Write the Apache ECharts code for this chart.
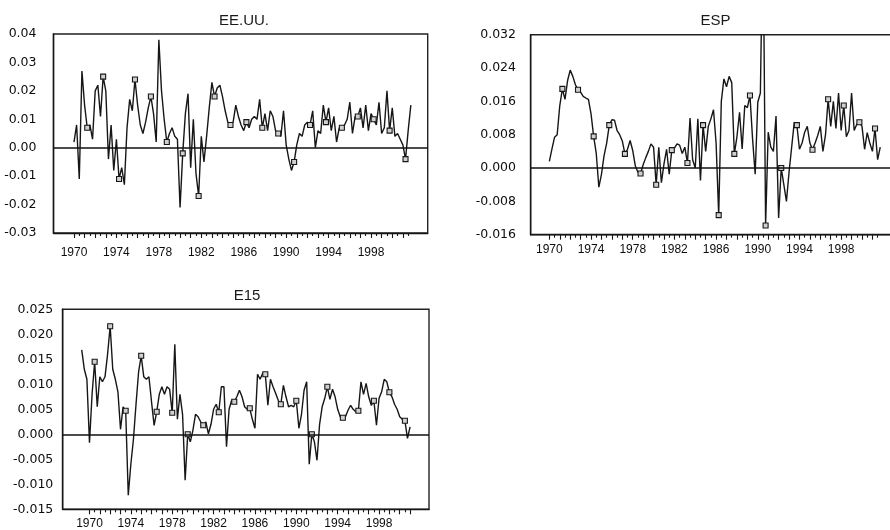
<!DOCTYPE html>
<html>
<head>
<meta charset="utf-8">
<script src="https://cdn.jsdelivr.net/npm/echarts@6/dist/echarts.min.js"></script>
<style>
html,body{margin:0;padding:0;background:#fff;}
#chart{width:890px;height:530px;}
</style>
</head>
<body>
<div id="chart"></div>
<script>
// ---- data (quarterly observations) ----
const quarterStep = 0.25;
const eeuuStart = 1970.0;
const espStart = 1970.0;
const e15Start = 1969.25;

const eeuuValues = [
  0.002, 0.008, -0.011, 0.027, 0.015, 0.007, 0.008, 0.003,
  0.020, 0.022, 0.011, 0.025, 0.020, -0.004, 0.008, -0.008,
  0.003, -0.011, -0.007, -0.013, 0.007, 0.017, 0.013, 0.024,
  0.015, 0.008, 0.005, 0.009, 0.014, 0.018, 0.012, 0.002,
  0.038, 0.020, 0.010, 0.002, 0.005, 0.007, 0.004, 0.003,
  -0.021, -0.002, 0.012, 0.019, -0.007, 0.010, -0.009, -0.017,
  0.004, -0.005, 0.004, 0.014, 0.023, 0.018, 0.021, 0.022,
  0.018, 0.013, 0.009, 0.008, 0.009, 0.015, 0.011, 0.008,
  0.006, 0.009, 0.007, 0.010, 0.011, 0.010, 0.017, 0.007,
  0.012, 0.006, 0.013, 0.011, 0.006, 0.005, 0.004, 0.013,
  0.001, -0.004, -0.008, -0.005, 0.001, 0.005, 0.004, 0.008,
  0.009, 0.008, 0.013, 0.000, 0.006, 0.005, 0.015, 0.009,
  0.014, 0.006, 0.011, 0.002, 0.007, 0.007, 0.008, 0.010,
  0.016, 0.005, 0.011, 0.011, 0.014, 0.007, 0.015, 0.006,
  0.012, 0.010, 0.008, 0.016, 0.005, 0.007, 0.020, 0.006,
  0.014, 0.004, 0.005, 0.003, 0.001, -0.004, 0.006, 0.015
];

const espValues = [
  0.0016, 0.0046, 0.0074, 0.008, 0.015, 0.019, 0.0165, 0.021,
  0.0235, 0.022, 0.020, 0.0188, 0.0182, 0.0172, 0.0168, 0.0165,
  0.013, 0.0076, 0.0035, -0.0046, -0.0015, 0.003, 0.006, 0.0103,
  0.0116, 0.0115, 0.009, 0.008, 0.0065, 0.0034, 0.0045, 0.0066,
  0.0042, 0.0005, -0.001, -0.0013, 0.0008, 0.0025, 0.004, 0.0058,
  0.005, -0.004, 0.005, -0.0035, 0.001, 0.0045, -0.0015, 0.0043,
  0.0048, 0.0058, 0.0055, 0.0035, 0.005, 0.0012, 0.012, 0.002,
  0.000, 0.0118, -0.003, 0.0103, 0.004, 0.010, 0.0118, 0.014,
  0.006, -0.0113, 0.016, 0.0214, 0.0195, 0.022, 0.0205, 0.0034,
  0.0075, 0.0134, 0.0046, 0.015, 0.0145, 0.0174, 0.007, -0.0015,
  0.0158, 0.018, 0.06, -0.0138, 0.0086, 0.005, 0.004, 0.0125,
  -0.012, 0.000, -0.004, -0.008, -0.001, 0.005, 0.011, 0.0103,
  0.0045, 0.006, 0.0086, 0.010, 0.006, 0.0044, 0.006, 0.0078,
  0.010, 0.004, 0.008, 0.0165, 0.010, 0.016, 0.0095, 0.018,
  0.009, 0.015, 0.0075, 0.009, 0.018, 0.009, 0.0105, 0.011,
  0.010, 0.0045, 0.0085, 0.006, 0.004, 0.0095, 0.002, 0.005
];

const e15Values = [
  0.0169, 0.013, 0.011, -0.0017, 0.008, 0.0145, 0.0055, 0.0115,
  0.0105, 0.0115, 0.016, 0.0216, 0.013, 0.011, 0.0085, 0.001,
  0.0055, 0.0047, -0.0122, -0.006, -0.001, 0.006, 0.0125, 0.0157,
  0.0115, 0.011, 0.0115, 0.0065, 0.0018, 0.0045, 0.008, 0.0095,
  0.008, 0.0095, 0.009, 0.0043, 0.018, 0.003, 0.008, 0.004,
  -0.0092, 0.000, -0.0015, 0.0008, 0.004, 0.0035, 0.0025, 0.0018,
  0.0025, 0.0001, 0.002, 0.005, 0.006, 0.0044, 0.0095, 0.0095,
  -0.0025, 0.005, 0.0068, 0.0065, 0.0075, 0.0088, 0.0075, 0.0055,
  0.005, 0.0052, 0.003, 0.0012, 0.012, 0.011, 0.0122, 0.012,
  0.0058, 0.011, 0.0095, 0.0082, 0.0068, 0.006, 0.0098, 0.0075,
  0.0055, 0.0058, 0.0055, 0.0067, 0.0012, 0.004, 0.0088, 0.0105,
  -0.006, 0.000, -0.0015, -0.0052, 0.002, 0.0055, 0.0072, 0.0095,
  0.007, 0.009, 0.0075, 0.005, 0.0035, 0.0033, 0.0035, 0.0048,
  0.0058, 0.005, 0.0045, 0.0047, 0.0105, 0.008, 0.0102, 0.0075,
  0.0058, 0.0067, 0.0018, 0.0072, 0.0085, 0.011, 0.0105, 0.0084,
  0.0075, 0.006, 0.005, 0.0035, 0.003, 0.0027, -0.0008, 0.0015
];

const yearLabels = [1970, 1974, 1978, 1982, 1986, 1990, 1994, 1998];
const yearTicks = [1970, 1971, 1972, 1973, 1974, 1975, 1976, 1977, 1978, 1979, 1980,
  1981, 1982, 1983, 1984, 1985, 1986, 1987, 1988, 1989, 1990, 1991, 1992, 1993,
  1994, 1995, 1996, 1997, 1998, 1999, 2000, 2001];

// ---- panels ----
const FONT = '"Liberation Sans", Arial, Helvetica, sans-serif';
const YFONT = '"DejaVu Sans", Verdana, sans-serif';
const INK = '#161616';

const panels = [
  { title: 'EE.UU.', tx: 244, ty: 21, values: eeuuValues, start: eeuuStart,
    grid: { left: 53.5, top: 34, width: 374.2, height: 199 },
    xMin: 1968.07, xMax: 2003.34, yMin: -0.03, yMax: 0.04, yStep: 0.01, dec: 2,
    yMargin: 17, xMargin: 13.5, tickEnd: 2001.5 },
  { title: 'ESP', tx: 715.5, ty: 21.3, values: espValues, start: espStart,
    grid: { left: 530.7, top: 34.7, width: 366, height: 200 },
    xMin: 1968.21, xMax: 2003.33, yMin: -0.016, yMax: 0.032, yStep: 0.008, dec: 3,
    yMargin: 14.7, xMargin: 9, tickEnd: 2001.5 },
  { title: 'E15', tx: 247, ty: 296, values: e15Values, start: e15Start,
    grid: { left: 62.7, top: 309.3, width: 366.3, height: 200 },
    xMin: 1967.41, xMax: 2002.83, yMin: -0.015, yMax: 0.025, yStep: 0.005, dec: 3,
    yMargin: 9.4, xMargin: 8.5, tickEnd: 2001 }
];

const grids = [], xAxes = [], yAxes = [], series = [], graphics = [];

panels.forEach((p, k) => {
  grids.push(Object.assign({
    show: true, borderColor: '#222', borderWidth: 1.4, backgroundColor: 'transparent',
    containLabel: false, outerBoundsMode: 'none'
  }, p.grid));

  const yt = yearTicks.filter(y => y <= p.tickEnd);
  const ht = yearTicks.map(y => y + 0.5).filter(y => y <= p.tickEnd);

  // main x axis: line, yearly ticks, labels
  xAxes.push({
    type: 'value', gridIndex: k, min: p.xMin, max: p.xMax, position: 'bottom',
    axisLine: { show: true, onZero: false, lineStyle: { color: INK, width: 1.4 } },
    axisTick: { show: true, inside: false, length: 5, customValues: yt,
      lineStyle: { color: INK, width: 1.1 } },
    axisLabel: { show: true, customValues: yearLabels, margin: p.xMargin,
      fontFamily: FONT, fontSize: 12, color: '#0d0d0d',
      formatter: v => String(Math.round(v)) },
    splitLine: { show: false }
  });
  // secondary x axis: half-year short ticks
  xAxes.push({
    type: 'value', gridIndex: k, min: p.xMin, max: p.xMax, position: 'bottom',
    axisLine: { show: false, onZero: false },
    axisTick: { show: true, inside: false, length: 3, customValues: ht,
      lineStyle: { color: INK, width: 1.1 } },
    axisLabel: { show: false },
    splitLine: { show: false }
  });

  yAxes.push({
    type: 'value', gridIndex: k, min: p.yMin, max: p.yMax, interval: p.yStep,
    axisLine: { show: true, onZero: false, lineStyle: { color: INK, width: 1.4 } },
    axisTick: { show: false },
    axisLabel: { margin: p.yMargin, fontFamily: YFONT, fontSize: 12.5, color: '#0d0d0d',
      formatter: v => v.toFixed(p.dec) },
    splitLine: { show: false }
  });

  series.push({
    type: 'line', name: p.title, xAxisIndex: 2 * k, yAxisIndex: k,
    data: p.values.map((v, i) => [p.start + i * quarterStep, v]),
    symbol: 'rect', showSymbol: true, showAllSymbol: true,
    symbolSize: (val, params) => (params.dataIndex % 6 === 5 ? 5 : 0),
    itemStyle: { color: '#d0d0d0', borderColor: INK, borderWidth: 1.1 },
    lineStyle: { color: INK, width: 1.4 },
    clip: true, silent: true, animation: false,
    markLine: {
      silent: true, symbol: 'none', animation: false,
      label: { show: false },
      lineStyle: { color: '#111', width: 1.6, type: 'solid' },
      data: [{ yAxis: 0 }]
    },
    z: 3
  });

  graphics.push({
    type: 'text', x: p.tx, y: p.ty, z: 10,
    style: { text: p.title, font: '15px ' + FONT, fill: '#1a1a1a',
      align: 'center', verticalAlign: 'middle' }
  });
});

const chart = echarts.init(document.getElementById('chart'), null, { renderer: 'canvas' });
chart.setOption({
  animation: false,
  backgroundColor: '#ffffff',
  grid: grids,
  xAxis: xAxes,
  yAxis: yAxes,
  series: series,
  graphic: graphics
});
</script>
</body>
</html>
